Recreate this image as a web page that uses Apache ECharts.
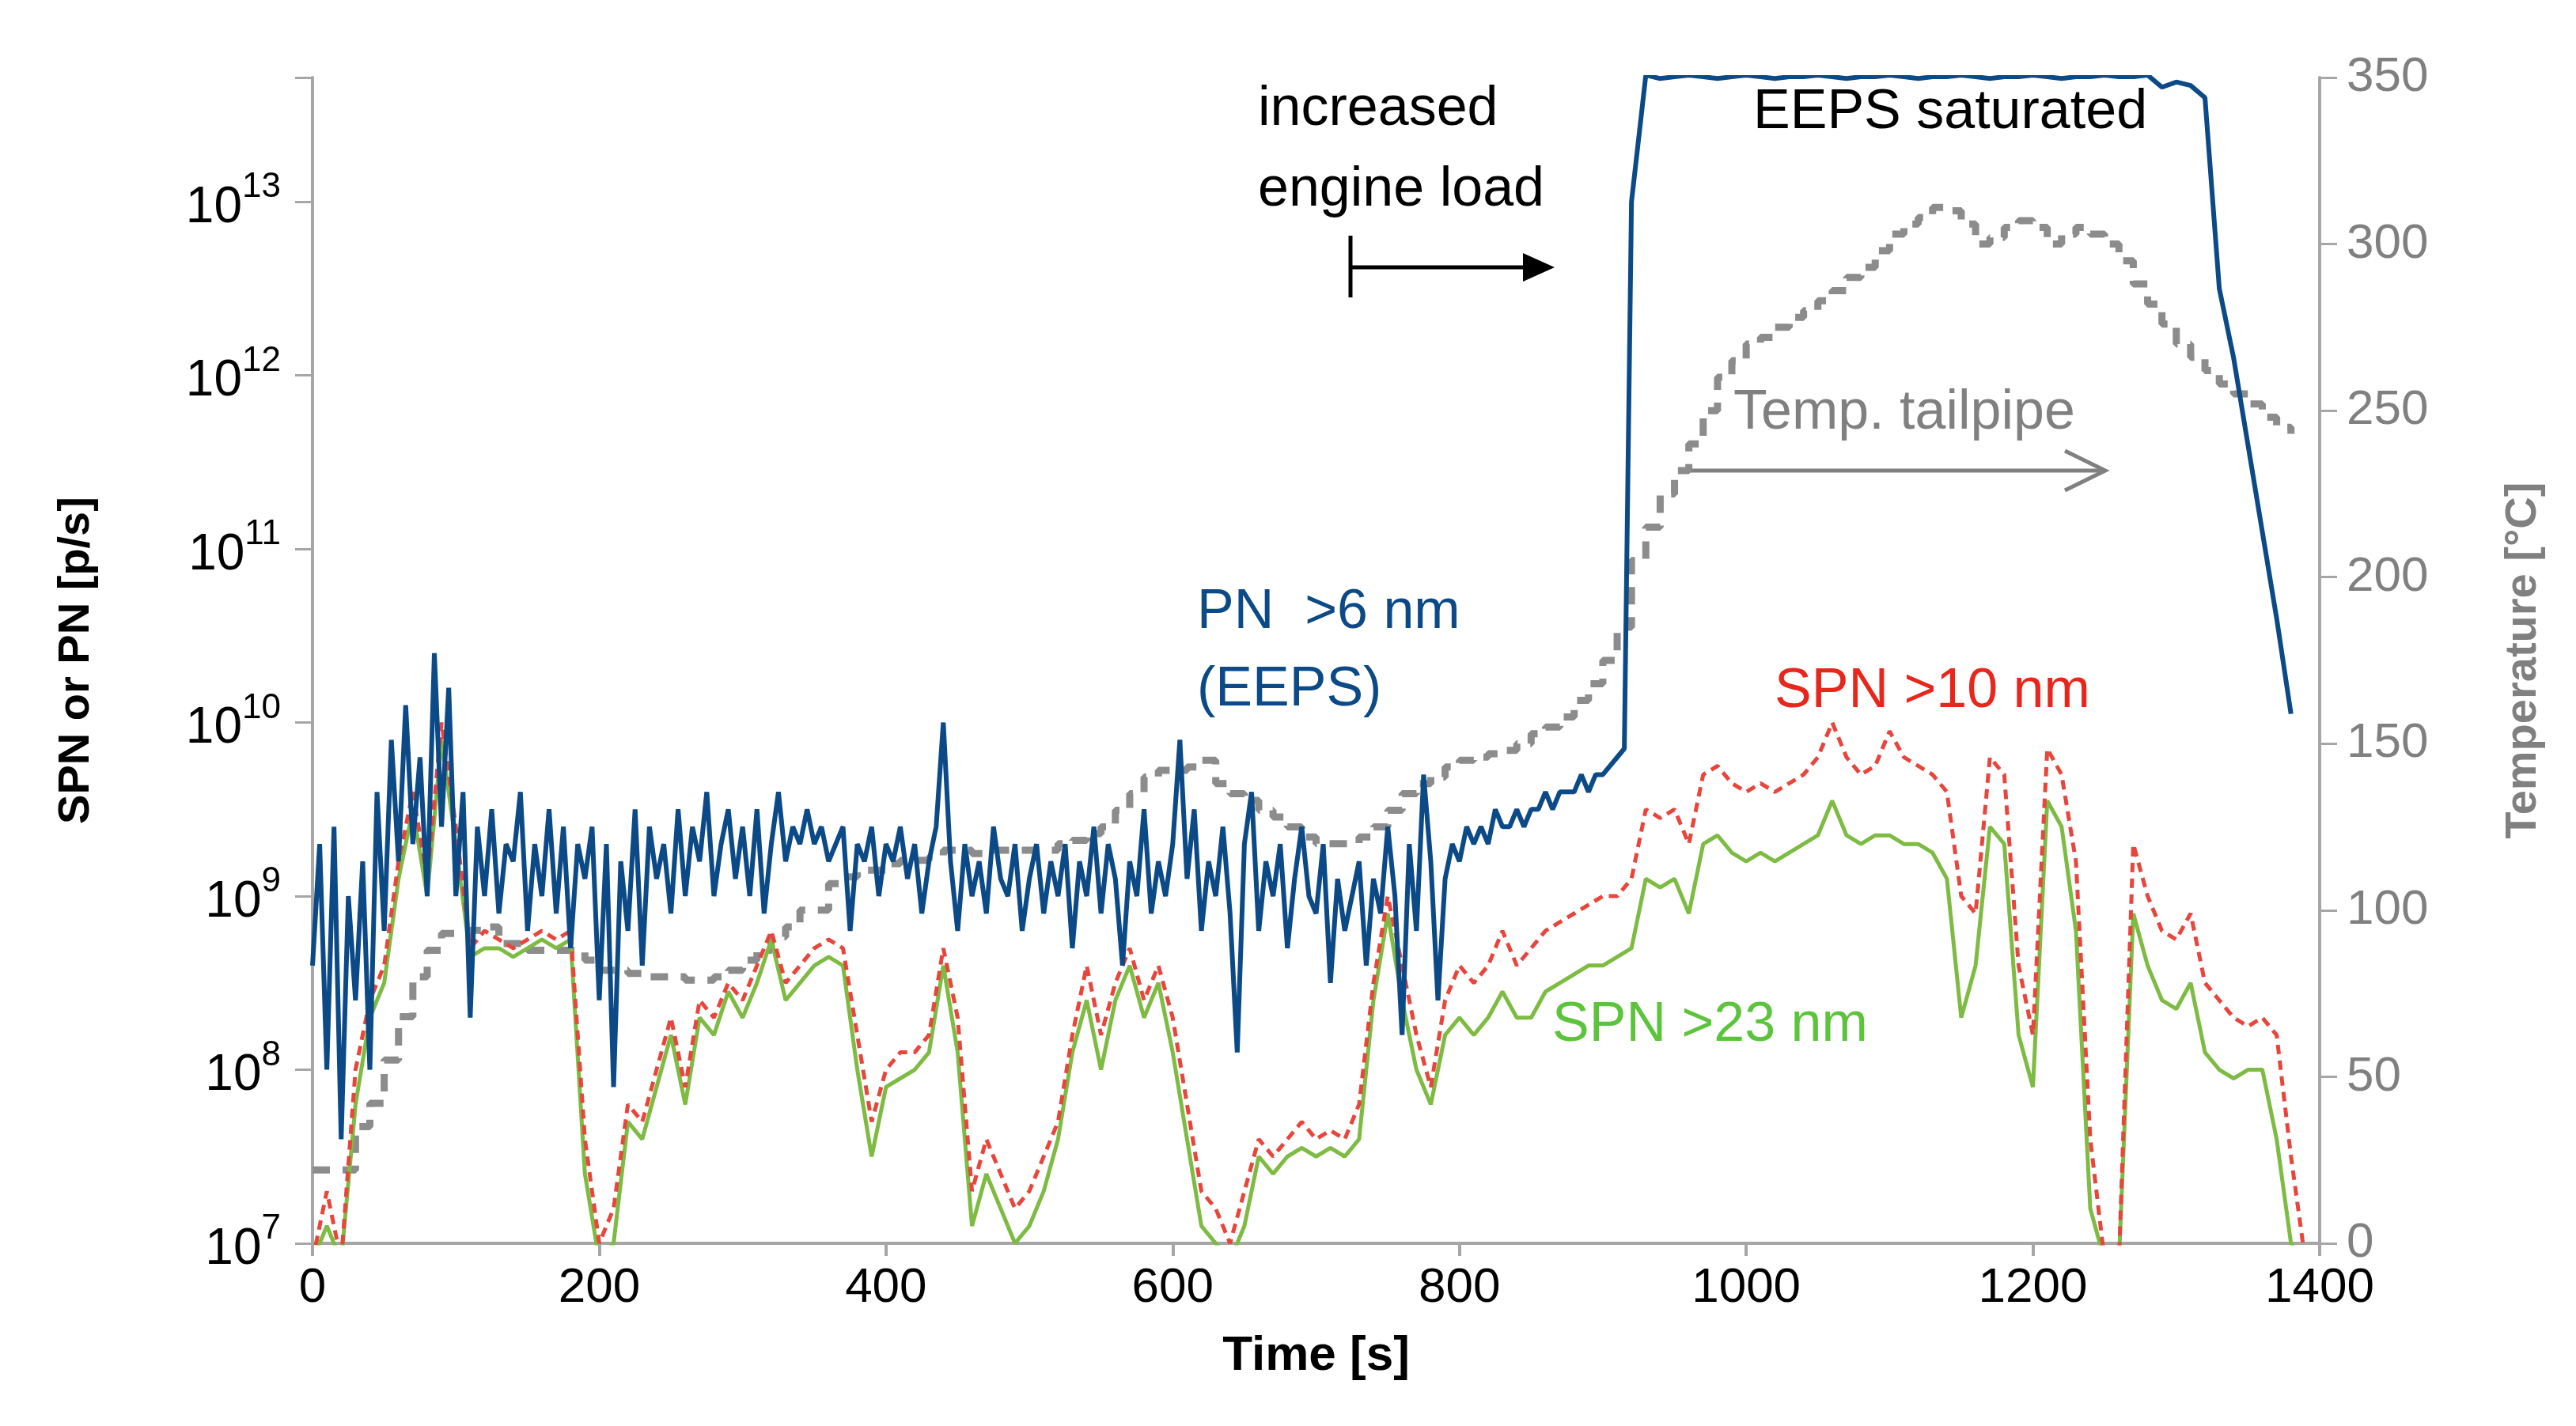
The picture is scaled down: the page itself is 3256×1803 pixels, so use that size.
<!DOCTYPE html>
<html><head><meta charset="utf-8">
<script src="https://cdn.jsdelivr.net/npm/echarts@6/dist/echarts.min.js"></script>
<style>html,body{margin:0;padding:0;background:#fff}#c{width:3256px;height:1803px}</style>
</head><body><div id="c"></div>
<script>
// Exponents (log10 of p/s); PN >6 nm (EEPS), 5 s steps from t=0
const pnNoisyStart = 0, pnNoisyStep = 5;
const pnNoisyExp = [
8.6,9.3,8.0,9.4,7.6,9.0,8.4,9.2,8.0,9.6,8.8,9.9,9.2,10.1,9.3,9.8,9.0,10.4,9.4,10.2,
9.0,9.6,8.3,9.4,9.0,9.5,8.9,9.3,9.2,9.6,8.8,9.3,9.0,9.5,8.9,9.4,8.7,9.3,9.1,9.4,
8.4,9.3,7.9,9.2,8.8,9.5,8.6,9.4,9.1,9.3,8.9,9.5,9.0,9.4,9.2,9.6,9.0,9.3,9.5,9.1,
9.4,9.0,9.5,8.9,9.3,9.6,9.2,9.4,9.3,9.5,9.3,9.4,9.2,9.3,9.4,8.8,9.3,9.2,9.4,9.0,
9.3,9.2,9.4,9.1,9.3,8.9,9.2,9.4,10.0,9.2,8.8,9.3,9.0,9.2,8.9,9.4,9.1,9.0,9.3,8.8,
9.1,9.3,8.9,9.2,9.0,9.3,8.7,9.2,9.0,9.4,8.9,9.3,9.1,8.6,9.2,9.0,9.5,8.9,9.2,9.0,
9.3,9.9,9.1,9.5,8.8,9.2,9.0,9.4,8.9,8.1,9.3,9.6,8.8,9.2,9.0,9.3,8.7,9.1,9.4,9.0,
8.9,9.3,8.5,9.1,8.8,9.0,9.2,8.6,9.1,8.9,9.4,9.0,8.2,9.3,8.8,9.7,9.2,8.4,9.1,9.3,
9.2,9.4,9.3,9.4,9.3,9.5,9.4,9.4,9.5,9.4,9.5,9.5,9.6,9.5,9.6,9.6,9.6,9.7,9.6,9.7,
9.7,9.75,9.8,9.85];
// PN >6 nm, 10 s steps from t=920 (saturated region and decline)
const pnHighStart = 920, pnHighStep = 10;
const pnHighExp = [
13.0,13.73,13.71,13.72,13.73,13.72,13.71,13.72,13.73,13.72,13.71,13.72,13.72,13.73,13.72,13.71,13.72,13.72,13.73,
13.72,13.71,13.72,13.72,13.73,13.72,13.71,13.72,13.72,13.73,13.72,13.71,13.72,13.72,13.73,13.72,13.72,13.73,
13.66,13.69,13.67,13.6,12.5,12.1,11.6,11.1,10.6,10.05];
// SPN >10 nm and >23 nm, 10 s steps from t=0
const spnStep = 10;
const spn10Exp = [
6.9,7.3,6.9,8.0,8.4,8.6,9.2,9.6,9.1,10.0,9.4,8.7,8.8,8.75,8.7,8.75,8.8,8.75,8.8,7.6,
7.0,7.2,7.8,7.7,8.0,8.3,7.9,8.4,8.3,8.5,8.4,8.6,8.8,8.5,8.6,8.7,8.75,8.7,8.2,7.7,
8.0,8.1,8.1,8.2,8.7,8.3,7.3,7.6,7.4,7.2,7.3,7.5,7.7,8.2,8.6,8.2,8.5,8.7,8.4,8.6,
8.3,7.8,7.3,7.2,7.0,7.3,7.6,7.5,7.6,7.7,7.6,7.65,7.6,7.8,8.5,9.0,8.6,8.2,7.9,8.4,
8.6,8.5,8.6,8.8,8.6,8.7,8.8,8.85,8.9,8.95,9.0,9.0,9.1,9.5,9.45,9.5,9.3,9.7,9.75,9.65,
9.6,9.65,9.6,9.65,9.7,9.8,10.0,9.8,9.7,9.75,9.95,9.8,9.75,9.7,9.6,9.0,8.9,9.8,9.7,8.6,
8.2,9.85,9.7,9.2,7.6,6.9,6.9,9.3,9.0,8.8,8.75,8.9,8.5,8.4,8.3,8.25,8.3,8.2,7.5,6.9];
const spn23Exp = [
6.9,7.1,6.9,7.8,8.3,8.5,9.1,9.5,9.0,9.9,9.3,8.65,8.7,8.7,8.65,8.7,8.75,8.7,8.75,7.4,
6.9,7.0,7.7,7.6,7.9,8.2,7.8,8.3,8.2,8.45,8.3,8.5,8.75,8.4,8.5,8.6,8.65,8.6,8.0,7.5,
7.9,7.95,8.0,8.1,8.6,8.1,7.1,7.4,7.2,7.0,7.1,7.3,7.6,8.1,8.4,8.0,8.4,8.6,8.3,8.5,
8.1,7.6,7.1,7.0,6.9,7.1,7.5,7.4,7.5,7.55,7.5,7.55,7.5,7.6,8.4,8.9,8.4,8.0,7.8,8.2,
8.3,8.2,8.3,8.45,8.3,8.3,8.45,8.5,8.55,8.6,8.6,8.65,8.7,9.1,9.05,9.1,8.9,9.3,9.35,9.25,
9.2,9.25,9.2,9.25,9.3,9.35,9.55,9.35,9.3,9.35,9.35,9.3,9.3,9.25,9.1,8.3,8.6,9.4,9.3,8.2,
7.9,9.55,9.4,8.8,7.2,6.9,6.9,8.9,8.6,8.4,8.35,8.5,8.1,8.0,7.95,8.0,8.0,7.6,7.0,6.9];
// Tailpipe temperature [°C], 10 s steps from t=0
const tempStep = 10;
const tempC = [
22,22,22,35,42,55,68,80,88,93,93,94,95,90,90,88,88,88,88,85,
82,82,81,80,80,80,79,79,80,82,85,88,92,95,100,100,108,110,112,112,
114,115,115,116,118,118,117,118,118,118,118,118,120,121,123,125,130,135,140,142,
142,143,145,138,135,133,130,128,125,122,120,120,120,122,125,130,135,138,140,143,
145,146,147,148,150,153,155,158,163,168,175,185,205,215,225,232,240,250,260,265,
270,272,275,278,280,283,286,290,293,298,303,306,308,311,310,306,300,302,305,307,
305,300,303,305,303,300,295,288,282,276,270,266,262,258,255,252,248,245,243];
const xTicks = [0,200,400,600,800,1000,1200,1400];
const tempTicks = [0,50,100,150,200,250,300,350];

const toPairs = (arr, start, step, f) => arr.map((v,i)=>[start+i*step, f(v)]);
const p10 = v => Math.pow(10, v);
const pnData = toPairs(pnNoisyExp, pnNoisyStart, pnNoisyStep, p10)
  .concat(toPairs(pnHighExp, pnHighStart, pnHighStep, p10));
const spn10Data = toPairs(spn10Exp, 0, spnStep, p10);
const spn23Data = toPairs(spn23Exp, 0, spnStep, p10);
const tempData = toPairs(tempC, 0, tempStep, v=>v);

const FONT = 'Liberation Sans';
const axisGray = '#a6a6a6';
const chart = echarts.init(document.getElementById('c'));
chart.setOption({
  animation: false,
  textStyle: {fontFamily: FONT},
  grid: {left: 395, right: 324, top: 98, bottom: 231},
  xAxis: {
    type: 'value', min: 0, max: 1400, interval: 200,
    name: 'Time [s]', nameLocation: 'middle', nameGap: 112,
    nameTextStyle: {fontSize: 62, fontWeight: 'bold', color: '#000'},
    axisLine: {lineStyle: {color: axisGray, width: 4}},
    axisTick: {show: true, length: 16, lineStyle: {color: axisGray, width: 4}},
    axisLabel: {fontSize: 62, color: '#000', margin: 26, formatter: v => String(v)},
    splitLine: {show: false}
  },
  yAxis: [{
    type: 'log', min: 1e7, max: 5.2e13, logBase: 10,
    name: 'SPN or PN [p/s]', nameLocation: 'middle', nameGap: 270, nameRotate: 90,
    nameTextStyle: {fontSize: 56, fontWeight: 'bold', color: '#000'},
    axisLine: {show: true, lineStyle: {color: axisGray, width: 4}},
    axisTick: {show: true, length: 22, lineStyle: {color: axisGray, width: 3}},
    minorTick: {show: false},
    axisLabel: {
      color: '#000', margin: 40,
      formatter: v => { const e = Math.round(Math.log10(v)); return Math.abs(Math.log10(v)-e) < 1e-6 ? '{b|10}{s|' + e + '}' : ''; },
      rich: {b: {fontSize: 64, lineHeight: 80, verticalAlign: 'bottom'}, s: {fontSize: 44, lineHeight: 80, verticalAlign: 'top'}}
    },
    splitLine: {show: false}
  }, {
    type: 'value', min: 0, max: 350, interval: 50, position: 'right',
    name: 'Temperature [°C]', nameLocation: 'middle', nameGap: 230, nameRotate: 90,
    nameTextStyle: {fontSize: 56, fontWeight: 'bold', color: '#808080'},
    axisLine: {show: true, lineStyle: {color: axisGray, width: 4}},
    axisTick: {show: true, length: 22, lineStyle: {color: axisGray, width: 3}},
    axisLabel: {fontSize: 62, color: '#808080', margin: 34},
    splitLine: {show: false}
  }],
  series: [
    {name: 'Temp. tailpipe', type: 'line', yAxisIndex: 1, data: tempData, step: 'end', showSymbol: false,
     lineStyle: {color: '#8c8c8c', width: 9, type: [22, 16]}, z: 1},
    {name: 'SPN >23 nm', type: 'line', data: spn23Data, showSymbol: false,
     lineStyle: {color: '#7dbb42', width: 5}, z: 2},
    {name: 'SPN >10 nm', type: 'line', data: spn10Data, showSymbol: false,
     lineStyle: {color: '#e8453c', width: 5, type: [12, 8]}, z: 3},
    {name: 'PN >6 nm (EEPS)', type: 'line', data: pnData, showSymbol: false,
     lineStyle: {color: '#0b4a87', width: 6}, z: 4}
  ],
  graphic: [
    {type: 'text', left: 1590, top: 88, style: {text: 'increased\nengine load', font: '70px ' + FONT, fill: '#000', lineHeight: 102}},
    {type: 'line', shape: {x1: 1707, y1: 298, x2: 1707, y2: 376}, style: {stroke: '#000', lineWidth: 5}},
    {type: 'line', shape: {x1: 1707, y1: 338, x2: 1935, y2: 338}, style: {stroke: '#000', lineWidth: 5}},
    {type: 'polygon', shape: {points: [[1965,338],[1925,320],[1925,356]]}, style: {fill: '#000'}},
    {type: 'text', left: 2216, top: 108, style: {text: 'EEPS saturated', font: '70px ' + FONT, fill: '#000'}},
    {type: 'text', left: 2191, top: 488, style: {text: 'Temp. tailpipe', font: '70px ' + FONT, fill: '#808080'}},
    {type: 'line', shape: {x1: 2129, y1: 595, x2: 2661, y2: 595}, style: {stroke: '#808080', lineWidth: 5}},
    {type: 'polyline', shape: {points: [[2610,570],[2661,595],[2610,620]]}, style: {stroke: '#808080', lineWidth: 5, fill: null}},
    {type: 'text', left: 1513, top: 726, style: {text: 'PN  >6 nm\n(EEPS)', font: '70px ' + FONT, fill: '#0b4a87', lineHeight: 98}},
    {type: 'text', left: 2243, top: 840, style: {text: 'SPN >10 nm', font: '70px ' + FONT, fill: '#e8261c'}},
    {type: 'text', left: 1962, top: 1262, style: {text: 'SPN >23 nm', font: '70px ' + FONT, fill: '#5cc43c'}}
  ]
});
</script></body></html>
